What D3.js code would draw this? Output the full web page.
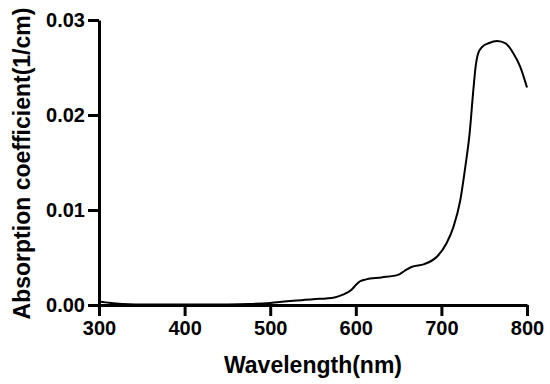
<!DOCTYPE html>
<html>
<head>
<meta charset="utf-8">
<script src="https://cdn.jsdelivr.net/npm/d3@7"></script>
<style>
  body { margin: 0; background: #fff; }
  text { font-family: "Liberation Sans", Arial, sans-serif; font-weight: bold; fill: #000; }
</style>
</head>
<body>
<div id="chart"></div>
<script>
// spectrum
const wavelength = [300, 310, 320, 335, 350, 400, 450, 475, 500, 520, 550, 575, 585, 595, 600, 605, 612, 630, 650, 657, 665, 680, 695, 706, 714, 722, 728, 733, 737, 740, 743, 748, 755, 765, 775, 784, 792, 800];
const absorption = [0.00035, 0.00025, 0.00016, 0.00008, 0.00005, 0.00004, 0.00006, 0.0001, 0.00022, 0.0004, 0.0006, 0.0008, 0.0011, 0.0016, 0.0021, 0.0025, 0.0027, 0.0029, 0.0032, 0.0036, 0.0040, 0.0043, 0.0051, 0.0065, 0.0082, 0.011, 0.0146, 0.0181, 0.0223, 0.0251, 0.0265, 0.0272, 0.02755, 0.0278, 0.02755, 0.0265, 0.0251, 0.0229];

const xTicks = [300, 400, 500, 600, 700, 800];
const yTicks = [0, 0.01, 0.02, 0.03];

const width = 550, height = 384;
const margin = { top: 20, right: 23, bottom: 79, left: 99 };

const svg = d3.select("#chart").append("svg")
  .attr("width", width)
  .attr("height", height);

const x = d3.scaleLinear().domain([300, 800]).range([margin.left, width - margin.right]);
const y = d3.scaleLinear().domain([0, 0.03]).range([height - margin.bottom, margin.top]);

const points = wavelength.map((w, i) => [w, absorption[i]]);

const line = d3.line()
  .x(d => x(d[0]))
  .y(d => y(d[1]))
  .curve(d3.curveMonotoneX);

svg.append("path")
  .datum(points)
  .attr("fill", "none")
  .attr("stroke", "#000")
  .attr("stroke-width", 2)
  .attr("d", line);

// x axis
const xAxis = svg.append("g")
  .attr("transform", `translate(0,${height - margin.bottom})`)
  .call(d3.axisBottom(x).tickValues(xTicks).tickFormat(d3.format("d")).tickSize(11).tickSizeOuter(0).tickPadding(5));

// y axis
const yAxis = svg.append("g")
  .attr("transform", `translate(${margin.left},0)`)
  .call(d3.axisLeft(y).tickValues(yTicks).tickFormat(d3.format(".2f")).tickSize(11).tickSizeOuter(0).tickPadding(3));

[xAxis, yAxis].forEach(g => {
  g.select(".domain").attr("stroke", "#000").attr("stroke-width", 3);
  g.selectAll(".tick line").attr("stroke", "#000").attr("stroke-width", 3);
  g.selectAll(".tick text")
    .attr("font-family", "Liberation Sans, Arial, sans-serif")
    .attr("font-weight", "bold")
    .attr("font-size", 20)
    .attr("fill", "#000");
});

svg.append("text")
  .attr("x", x(550))
  .attr("y", 373)
  .attr("text-anchor", "middle")
  .attr("font-size", 23)
  .text("Wavelength(nm)");

svg.append("text")
  .attr("transform", `translate(30,${(margin.top + height - margin.bottom) / 2 + 1}) rotate(-90)`)
  .attr("text-anchor", "middle")
  .attr("font-size", 23)
  .text("Absorption coefficient(1/cm)");
</script>
</body>
</html>
